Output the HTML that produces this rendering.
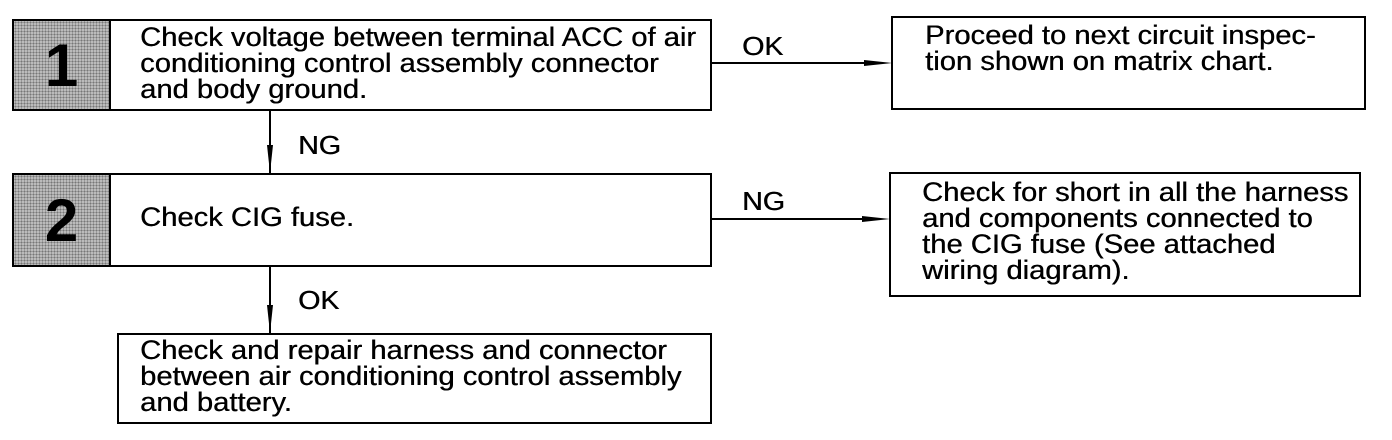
<!DOCTYPE html>
<html><head><style>
body{margin:0;width:1392px;height:440px;background:#fff;position:relative;overflow:hidden;font-family:"Liberation Sans",sans-serif;color:#000}
.b{position:absolute;border:2px solid #000;box-sizing:border-box;background:#fff}
.t{position:absolute;font-size:27px;line-height:26px;white-space:nowrap;transform-origin:0 0;transform:scaleX(1.08);text-shadow:0.4px 0 0 #000}
.g{position:absolute;background:#bbb;background-image:radial-gradient(#777 0.8px,transparent 1px);background-size:3px 3px;border-right:2px solid #000;box-sizing:border-box;font-weight:bold;font-size:60px;display:flex;align-items:center;justify-content:center}
.l{position:absolute;background:#000}
.lab{position:absolute;font-size:26px;transform-origin:0 0;transform:scaleX(1.1);text-shadow:0.4px 0 0 #000}
</style></head><body>
<div class="b" style="left:12px;top:19px;width:700px;height:92px"></div>
<div class="g" style="left:14px;top:21px;width:97px;height:88px">1</div>
<div class="t" style="left:140px;top:24px">Check voltage between terminal ACC of air<br>conditioning control assembly connector<br>and body ground.</div>

<div class="b" style="left:12px;top:173px;width:700px;height:94px"></div>
<div class="g" style="left:14px;top:175px;width:97px;height:90px">2</div>
<div class="t" style="left:140px;top:204px">Check CIG fuse.</div>

<div class="b" style="left:891px;top:16px;width:475px;height:94px"></div>
<div class="t" style="left:925px;top:22px">Proceed to next circuit inspec-<br>tion shown on matrix chart.</div>

<div class="b" style="left:889px;top:172px;width:472px;height:125px"></div>
<div class="t" style="left:922px;top:179px">Check for short in all the harness<br>and components connected to<br>the CIG fuse (See attached<br>wiring diagram).</div>

<div class="b" style="left:117px;top:333px;width:595px;height:91px"></div>
<div class="t" style="left:140px;top:337px">Check and repair harness and connector<br>between air conditioning control assembly<br>and battery.</div>

<div class="l" style="left:712px;top:62px;width:170px;height:2px"></div>
<svg style="position:absolute;left:864px;top:57px" width="28" height="12"><polygon points="0,3 28,6 0,9" fill="#000"/></svg>
<div class="lab" style="left:742px;top:31px">OK</div>

<div class="l" style="left:712px;top:218px;width:168px;height:2px"></div>
<svg style="position:absolute;left:862px;top:213px" width="28" height="12"><polygon points="0,3 28,6 0,9" fill="#000"/></svg>
<div class="lab" style="left:742px;top:186px">NG</div>

<div class="l" style="left:269px;top:111px;width:2px;height:62px"></div>
<svg style="position:absolute;left:264px;top:145px" width="12" height="28"><polygon points="3,0 6,28 9,0" fill="#000"/></svg>
<div class="lab" style="left:298px;top:130px">NG</div>

<div class="l" style="left:269px;top:267px;width:2px;height:66px"></div>
<svg style="position:absolute;left:264px;top:305px" width="12" height="28"><polygon points="3,0 6,28 9,0" fill="#000"/></svg>
<div class="lab" style="left:298px;top:285px">OK</div>
</body></html>
